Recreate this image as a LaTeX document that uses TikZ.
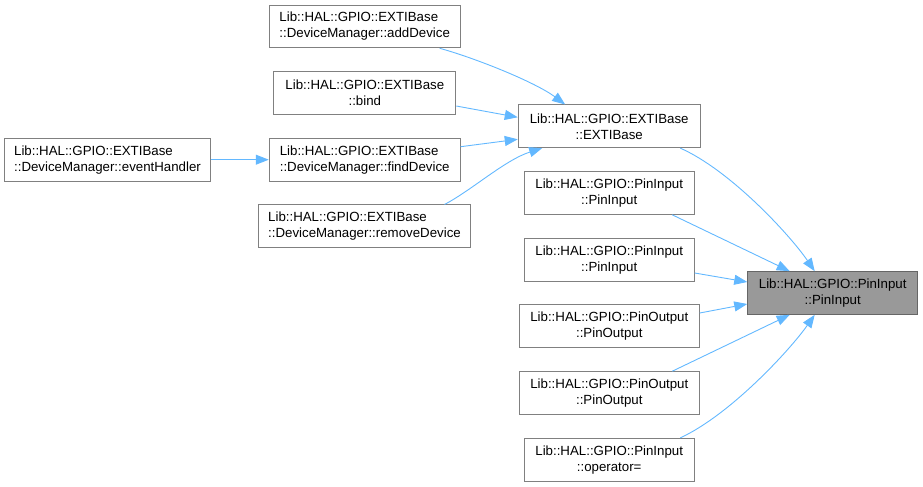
\documentclass[tikz,border=0pt]{standalone}
\usepackage{fontspec}
\setmainfont{Liberation Sans}
\usetikzlibrary{arrows.meta,calc}
\definecolor{edgeblue}{HTML}{63B8FF}
\definecolor{boxgray}{HTML}{808080}
\definecolor{tgtfill}{HTML}{999999}
\definecolor{tgtdraw}{HTML}{666666}
\begin{document}
\begin{tikzpicture}[x=1bp,y=-1bp,
  fn/.style={draw=boxgray,line width=0.9bp,fill=white,minimum height=42.7bp,inner sep=0pt,
    font=\fontsize{13.33}{16}\selectfont,text=black},
  fnl/.style={fn,align=left},
  fnc/.style={fn,align=center},
  tgt/.style={fn,align=center,fill=tgtfill,draw=tgtdraw},
  call/.style={draw=edgeblue,line width=0.9bp,-{Triangle[length=13bp,width=10bp]}}]
\useasboundingbox (0,0) rectangle (923,487);

\node[fnl,minimum width=191bp] (add) at (364.7,26.5) {Lib::HAL::GPIO::EXTIBase\\::DeviceManager::addDevice};
\node[fnc,minimum width=182bp] (bind) at (364.8,93) {Lib::HAL::GPIO::EXTIBase\\::bind};
\node[fnl,minimum width=191bp] (find) at (364.7,159.7) {Lib::HAL::GPIO::EXTIBase\\::DeviceManager::findDevice};
\node[fnl,minimum width=212bp] (remove) at (364.5,226.3) {Lib::HAL::GPIO::EXTIBase\\::DeviceManager::removeDevice};
\node[fnl,minimum width=206bp] (event) at (107.5,159.7) {Lib::HAL::GPIO::EXTIBase\\::DeviceManager::eventHandler};
\node[fnc,minimum width=182bp] (exti) at (609.2,126.3) {Lib::HAL::GPIO::EXTIBase\\::EXTIBase};
\node[fnc,minimum width=170bp] (pin1) at (609.2,193) {Lib::HAL::GPIO::PinInput\\::PinInput};
\node[fnc,minimum width=170bp] (pin2) at (609.2,259.7) {Lib::HAL::GPIO::PinInput\\::PinInput};
\node[fnc,minimum width=180bp] (out1) at (609.3,326.3) {Lib::HAL::GPIO::PinOutput\\::PinOutput};
\node[fnc,minimum width=180bp] (out2) at (609.3,393) {Lib::HAL::GPIO::PinOutput\\::PinOutput};
\node[fnc,minimum width=170bp] (oper) at (609.2,459.7) {Lib::HAL::GPIO::PinInput\\::operator=};
\node[tgt,minimum width=170bp] (target) at (832.7,293) {Lib::HAL::GPIO::PinInput\\::PinInput};

\draw[call] ($(add.south)+(75,0)$) .. controls (475,58) and (535,82) .. ($(exti.north)+(-44,0)$);
\draw[call] ($(bind.east)+(0,13)$) -- ($(exti.west)+(0,-9)$);
\draw[call] ($(find.east)+(0,-13)$) -- ($(exti.west)+(0,13)$);
\draw[call] ($(remove.north)+(80,0)$) .. controls (472,190) and (505,160) .. ($(exti.south)+(-67,0)$);
\draw[call] (event.east) -- (find.west);
\draw[call] ($(exti.south)+(71,0)$) .. controls (730,170) and (790,235) .. ($(target.north)+(-18,0)$);
\draw[call] ($(pin1.south)+(63,0)$) -- ($(target.north)+(-43,0)$);
\draw[call] ($(pin2.east)+(0,13.3)$) -- ($(target.west)+(0,-11)$);
\draw[call] ($(out1.east)+(0,-13.3)$) -- ($(target.west)+(0,11)$);
\draw[call] ($(out2.north)+(63,0)$) -- ($(target.south)+(-43,0)$);
\draw[call] ($(oper.north)+(71,0)$) .. controls (730,415) and (790,350) .. ($(target.south)+(-18,0)$);
\end{tikzpicture}
\end{document}
